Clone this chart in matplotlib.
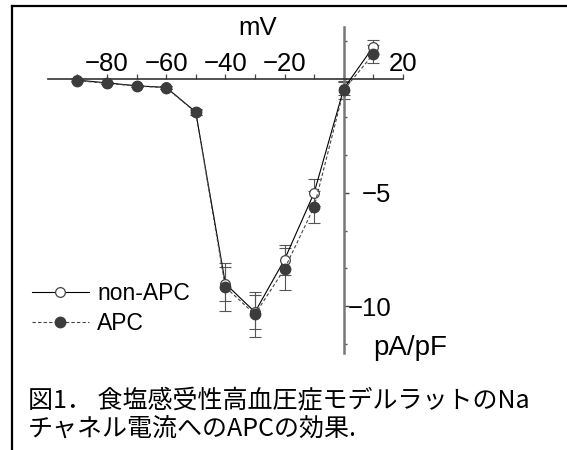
import matplotlib

matplotlib.use("Agg")
import matplotlib.pyplot as plt
from matplotlib.lines import Line2D

plt.rcParams["font.family"] = ["Liberation Sans", "DejaVu Sans"]

W, H = 567, 450

# membrane potential (mV) and current density (pA/pF)
voltage = [-90, -80, -70, -60, -50, -40, -30, -20, -10, 0, 10]
non_apc = [-0.05, -0.17, -0.30, -0.37, -1.45, -9.00, -10.25, -7.94, -5.00, -0.42, 1.42]
non_apc_err = [0.05, 0.05, 0.05, 0.06, 0.12, 0.75, 0.75, 0.66, 0.60, 0.30, 0.30]
apc = [-0.07, -0.19, -0.31, -0.38, -1.47, -9.15, -10.35, -8.35, -5.62, -0.48, 1.10]
apc_err = [0.05, 0.05, 0.05, 0.06, 0.12, 1.05, 1.00, 0.92, 0.70, 0.40, 0.40]

x_ticks = [-90, -80, -70, -60, -50, -40, -30, -20, -10, 0, 10, 20]
x_labels = ["", "−80", "", "−60", "", "−40", "", "−20", "", "", "", "20"]
y_major = [-5, -10]
y_minor = [k * 5 / 3 for k in range(-7, 2)]

caption = "図1． 食塩感受性高血圧症モデルラットのNa\nチャネル電流へのAPCの効果."

fig = plt.figure(figsize=(W / 100, H / 100), dpi=100)
ax = fig.add_axes([47.7 / W, 1 - 353 / H, (403 - 47.7) / W, (353 - 26.7) / H])
ax.set_xlim(-100, 20)
ax.set_ylim(-12.05, 2.3)

# error bars first, then lines with markers
ax.errorbar(voltage, non_apc, yerr=non_apc_err, fmt="none", ecolor="#555555",
            elinewidth=0.8, capsize=4, capthick=0.8, zorder=2)
ax.errorbar(voltage, apc, yerr=apc_err, fmt="none", ecolor="#555555",
            elinewidth=0.8, capsize=4, capthick=0.8, zorder=2)
ax.plot(voltage, non_apc, color="black", lw=0.8, marker="o", ms=7,
        mfc="white", mec="#444444", mew=0.9, label="non-APC", zorder=3)
ax.plot(voltage, apc, color="#444444", lw=0.8, ls=(0, (3, 2)), marker="o", ms=7.5,
        mfc="#3c3c3c", mec="#3c3c3c", label="APC", zorder=4)

for side in ["right", "bottom"]:
    ax.spines[side].set_visible(False)
ax.spines["top"].set_position(("data", 0))
ax.spines["top"].set_color("#333333")
ax.spines["top"].set_linewidth(1.2)
ax.spines["left"].set_position(("data", 0))
ax.spines["left"].set_color("#777777")
ax.spines["left"].set_linewidth(1.8)

ax.xaxis.tick_top()
ax.set_xticks(x_ticks, x_labels)
ax.tick_params(axis="x", direction="out", length=3.5, width=0.9, color="#444444",
               labelsize=18.5, pad=-1)
ax.set_yticks(y_major, ["−5", "−10"])
ax.set_yticks(y_minor, minor=True)
ax.tick_params(axis="y", which="major", direction="in", length=3.5, width=1,
               color="#444444", labelsize=18.5, pad=-34)
ax.tick_params(axis="y", which="minor", direction="in", length=2, width=1,
               color="#555555")

fig.text(257.7 / W, 1 - 35 / H, "mV", ha="center", va="baseline", fontsize=18.5)
fig.text(373 / W, 1 - 355 / H, "pA/pF", ha="left", va="baseline", fontsize=20)

ax.legend(loc="center left", bbox_to_anchor=(31.7 / W, 1 - 308.3 / H),
          bbox_transform=fig.transFigure, frameon=False, fontsize=16.5,
          handlelength=2.5, handletextpad=0.35, labelspacing=0.3,
          borderpad=0, borderaxespad=0, numpoints=1)

fig.text(28 / W, 1 - 388 / H, caption, ha="left", va="top", fontsize=18,
         family=["Noto Sans CJK JP", "DejaVu Sans"], linespacing=1.08)

# frame around the figure panel
fig.add_artist(Line2D([12 / W, 1], [1 - 6 / H, 1 - 6 / H], color="black", lw=1.6,
                      transform=fig.transFigure))
fig.add_artist(Line2D([12 / W, 12 / W], [0, 1 - 6 / H], color="black", lw=1.6,
                      transform=fig.transFigure))

fig.savefig("out.png", dpi=100)
